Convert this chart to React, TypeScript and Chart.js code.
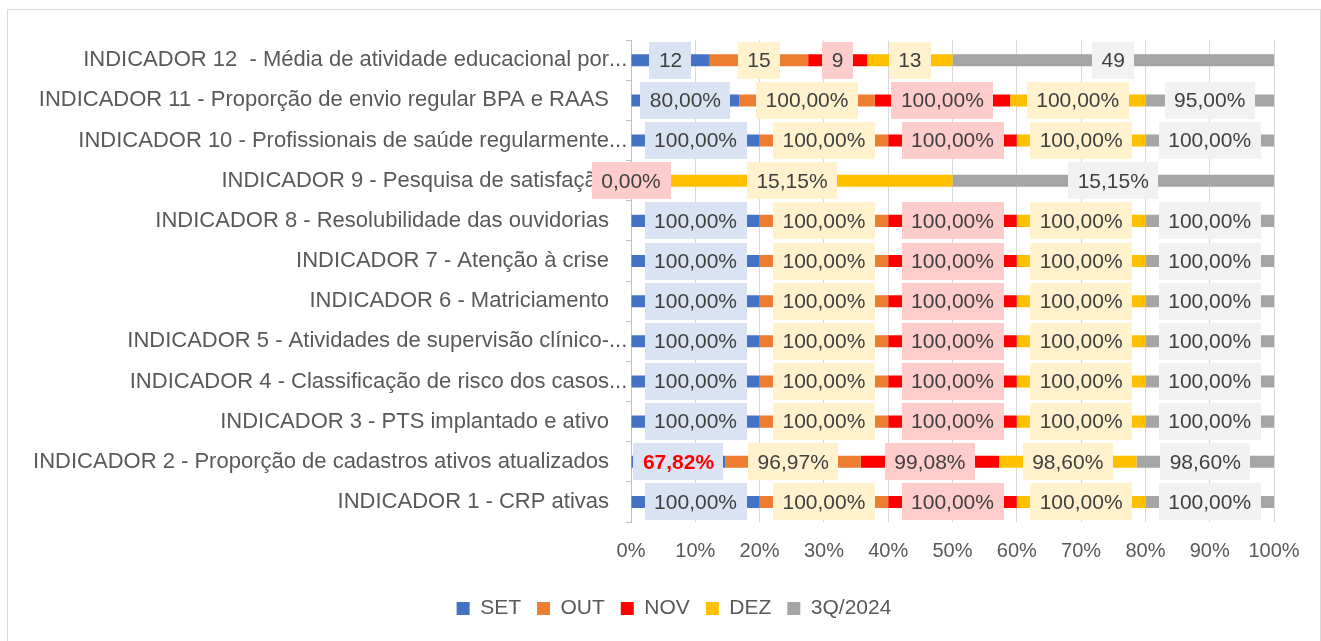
import React, { useEffect, useRef } from "react";
import { Chart, registerables } from "chart.js";

Chart.register(...registerables);

const CATEGORIES = [
  "INDICADOR 12  - Média de atividade educacional por...",
  "INDICADOR 11 - Proporção de envio regular BPA e RAAS",
  "INDICADOR 10 - Profissionais de saúde regularmente...",
  "INDICADOR 9 - Pesquisa de satisfação",
  "INDICADOR 8 - Resolubilidade das ouvidorias",
  "INDICADOR 7 - Atenção à crise",
  "INDICADOR 6 - Matriciamento",
  "INDICADOR 5 - Atividades de supervisão clínico-...",
  "INDICADOR 4 - Classificação de risco dos casos...",
  "INDICADOR 3 - PTS implantado e ativo",
  "INDICADOR 2 - Proporção de cadastros ativos atualizados",
  "INDICADOR 1 - CRP ativas",
];

const SERIES_NAMES = ["SET", "OUT", "NOV", "DEZ", "3Q/2024"];

const SET: (number | null)[] = [12, 80, 100, null, 100, 100, 100, 100, 100, 100, 67.82, 100];
const OUT: (number | null)[] = [15, 100, 100, null, 100, 100, 100, 100, 100, 100, 96.97, 100];
const NOV: (number | null)[] = [9, 100, 100, 0, 100, 100, 100, 100, 100, 100, 99.08, 100];
const DEZ: (number | null)[] = [13, 100, 100, 15.15, 100, 100, 100, 100, 100, 100, 98.6, 100];
const Q3: (number | null)[] = [49, 95, 100, 15.15, 100, 100, 100, 100, 100, 100, 98.6, 100];

const X_TICK_VALUES = [0, 10, 20, 30, 40, 50, 60, 70, 80, 90, 100];

// rows whose labels are counts (not percentages)
const COUNT_ROWS = [0];
// labels highlighted in red bold: [seriesIndex, rowIndex]
const HIGHLIGHT = [[0, 10]];

const SERIES = [SET, OUT, NOV, DEZ, Q3];
const BAR_COLORS = ["#4472C4", "#ED7D31", "#FF0000", "#FFC000", "#A5A5A5"];
const BOX_COLORS = ["#DAE3F3", "#FFF2CC", "#FFCCCC", "#FFF2CC", "#F2F2F2"];

const FONT = "'Liberation Sans', Arial, sans-serif";
const CAT_FONT_SIZE = 22;
const Y_TICK_LEN = 5;
const Y_TICK_PAD = 17;
const ELLIPSIS = "...";
const LEGEND_SHIFT = 33;

function fmt(v: number, row: number): string {
  if (COUNT_ROWS.includes(row)) return String(Math.round(v));
  return v.toFixed(2).replace(".", ",") + "%";
}

const totals = CATEGORIES.map((_, i) =>
  SERIES.reduce((s, arr) => s + (arr[i] ?? 0), 0)
);

const legendShift = {
  id: "legendShift",
  afterLayout(chart: any) {
    const lg = chart.legend;
    if (lg) {
      lg.left += LEGEND_SHIFT;
      lg.right += LEGEND_SHIFT;
    }
  },
};

const ellipsisPlugin = {
  id: "ellipsis",
  beforeDatasetsDraw(chart: any) {
    const ctx = chart.ctx;
    const ys = chart.scales.y;
    ctx.save();
    ctx.font = `${CAT_FONT_SIZE}px ${FONT}`;
    ctx.fillStyle = "#595959";
    ctx.textAlign = "left";
    ctx.textBaseline = "middle";
    CATEGORIES.forEach((c, i) => {
      if (!c.endsWith(ELLIPSIS)) return;
      const x = ys.right - Y_TICK_LEN - Y_TICK_PAD;
      ctx.fillText(ELLIPSIS, x, ys.getPixelForTick(i));
    });
    ctx.restore();
  },
};

const boxLabels = {
  id: "boxLabels",
  afterDatasetsDraw(chart: any) {
    const ctx = chart.ctx;
    ctx.save();
    chart.data.datasets.forEach((_: any, di: number) => {
      const meta = chart.getDatasetMeta(di);
      meta.data.forEach((el: any, i: number) => {
        const raw = SERIES[di][i];
        if (raw === null || raw === undefined) return;
        const cx = (el.x + el.base) / 2;
        const cy = el.y;
        const text = fmt(raw, i);
        const hl = HIGHLIGHT.some(([s, r]) => s === di && r === i);
        ctx.font = `${hl ? "bold " : ""}21px ${FONT}`;
        const w = ctx.measureText(text).width + 19;
        const h = 37;
        ctx.fillStyle = BOX_COLORS[di];
        ctx.fillRect(Math.round(cx - w / 2), Math.round(cy - h / 2), Math.round(w), h);
        ctx.fillStyle = hl ? "#FF0000" : "#404040";
        ctx.textAlign = "center";
        ctx.textBaseline = "middle";
        ctx.fillText(text, cx, cy + 1);
      });
    });
    ctx.restore();
  },
};

export default function App() {
  const ref = useRef<HTMLCanvasElement>(null);

  useEffect(() => {
    if (!ref.current) return;
    const chart = new Chart(ref.current, {
      type: "bar",
      data: {
        labels: CATEGORIES,
        datasets: SERIES.map((arr, di) => ({
          label: SERIES_NAMES[di],
          data: arr.map((v, i) => (v === null ? null : (v / totals[i]) * 100)),
          backgroundColor: BAR_COLORS[di],
          borderWidth: 0,
          barPercentage: 0.3,
          categoryPercentage: 1,
        })),
      },
      options: {
        indexAxis: "y",
        responsive: false,
        animation: false,
        devicePixelRatio: 1,
        layout: { padding: { top: 30, right: 46, bottom: 11, left: 0 } },
        plugins: {
          legend: {
            position: "bottom",
            labels: {
              boxWidth: 13,
              boxHeight: 13,
              padding: 16,
              color: "#595959",
              font: { family: FONT, size: 21 },
            },
          },
          tooltip: { enabled: false },
        },
        scales: {
          x: {
            stacked: true,
            min: 0,
            max: 100,
            afterBuildTicks: (scale: any) => {
              scale.ticks = X_TICK_VALUES.map((v) => ({ value: v }));
            },
            afterFit: (scale: any) => {
              scale.height = 60;
            },
            ticks: {
              padding: 17,
              color: "#595959",
              font: { family: FONT, size: 20 },
              callback: (v: any) => `${v}%`,
              maxRotation: 0,
            },
            grid: { color: "#D9D9D9", drawTicks: false },
            border: { display: false },
          },
          y: {
            stacked: true,
            afterFit: (scale: any) => {
              scale.width = 623;
            },
            ticks: {
              padding: Y_TICK_PAD,
              color: "#595959",
              font: { family: FONT, size: CAT_FONT_SIZE },
              autoSkip: false,
              callback: (_v: any, i: number) =>
                CATEGORIES[i].endsWith(ELLIPSIS)
                  ? CATEGORIES[i].slice(0, -ELLIPSIS.length)
                  : CATEGORIES[i],
            },
            grid: {
              drawOnChartArea: false,
              drawTicks: true,
              tickLength: Y_TICK_LEN,
              color: "#BFBFBF",
            },
            border: { display: true, color: "#BFBFBF" },
          },
        },
      },
      plugins: [legendShift, ellipsisPlugin, boxLabels],
    });
    return () => chart.destroy();
  }, []);

  return (
    <div
      style={{
        position: "absolute",
        left: 7,
        top: 9,
        width: 1314,
        height: 640,
        border: "1px solid #D9D9D9",
        boxSizing: "border-box",
        background: "#FFFFFF",
      }}
    >
      <canvas ref={ref} width={1312} height={630} style={{ display: "block" }} />
    </div>
  );
}
